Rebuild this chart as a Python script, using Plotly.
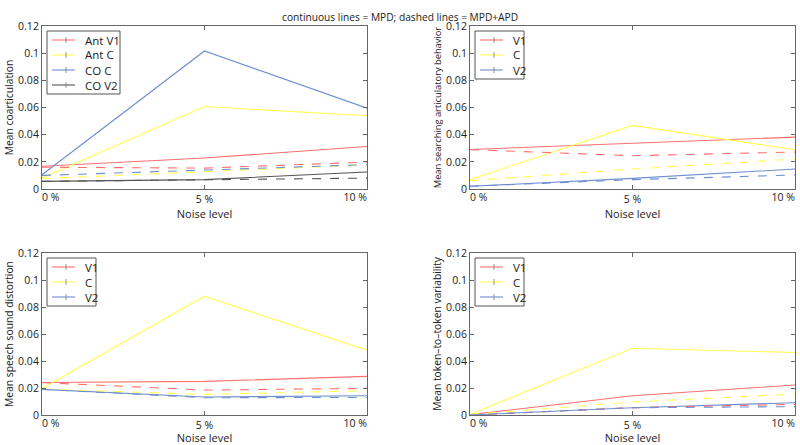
import plotly.graph_objects as go

noise = [0, 5, 10]
noise_labels = ["0 %", "5 %", "10 %"]

# Panel 1: Mean coarticulation
coart_names = ["Ant V1", "Ant C", "CO C", "CO V2"]
coart_mpd = [
    [0.0167, 0.0228, 0.0313],
    [0.0080, 0.0607, 0.0539],
    [0.0105, 0.1016, 0.0595],
    [0.0056, 0.0069, 0.0125],
]
coart_apd = [
    [0.0160, 0.0154, 0.0198],
    [0.0076, 0.0130, 0.0179],
    [0.0100, 0.0142, 0.0179],
    [0.0056, 0.0069, 0.0080],
]

seg_names = ["V1", "C", "V2"]
# Panel 2: Mean searching articulatory behavior
search_mpd = [
    [0.0291, 0.0338, 0.0382],
    [0.0069, 0.0468, 0.0289],
    [0.0020, 0.0078, 0.0147],
]
search_apd = [
    [0.0290, 0.0245, 0.0272],
    [0.0061, 0.0147, 0.0220],
    [0.0020, 0.0069, 0.0103],
]
# Panel 3: Mean speech sound distortion
dist_mpd = [
    [0.0241, 0.0249, 0.0286],
    [0.0197, 0.0880, 0.0480],
    [0.0190, 0.0133, 0.0143],
]
dist_apd = [
    [0.0240, 0.0185, 0.0197],
    [0.0192, 0.0153, 0.0180],
    [0.0190, 0.0128, 0.0130],
]
# Panel 4: Mean token-to-token variability
var_mpd = [
    [0.0003, 0.0143, 0.0222],
    [0.0005, 0.0495, 0.0463],
    [0.0000, 0.0054, 0.0091],
]
var_apd = [
    [0.0000, 0.0054, 0.0079],
    [0.0005, 0.0096, 0.0155],
    [0.0000, 0.0054, 0.0062],
]

y_ticks = [0, 0.02, 0.04, 0.06, 0.08, 0.1, 0.12]
y_ticktext = ["0", "0.02", "0.04", "0.06", "0.08", "0.1", "0.12"]

colors4 = ["#ff7070", "#ffff55", "#6f8fd0", "#555555"]
colors3 = ["#ff7070", "#ffff55", "#6f8fd0"]

W, H = 800, 445
ML, MR, MT, MB = 42, 5, 26, 30
PW, PH = W - ML - MR, H - MT - MB
def fx(px):
    return (px - ML) / PW
def fy(py):
    return (H - MB - py) / PH

panels = [
    dict(names=coart_names, mpd=coart_mpd, apd=coart_apd, colors=colors4,
         ytitle="Mean coarticulation", ysize=10.3, x0=42, x1=367, y0=26, y1=189, legw=73),
    dict(names=seg_names, mpd=search_mpd, apd=search_apd, colors=colors3,
         ytitle="Mean searching articulatory behavior", ysize=9.3, x0=470, x1=795, y0=26, y1=189, legw=49),
    dict(names=seg_names, mpd=dist_mpd, apd=dist_apd, colors=colors3,
         ytitle="Mean speech sound distortion", ysize=10.3, x0=42, x1=367, y0=253, y1=415, legw=49),
    dict(names=seg_names, mpd=var_mpd, apd=var_apd, colors=colors3,
         ytitle="Mean token\u2013to\u2013token variability", ysize=10.3, x0=470, x1=795, y0=253, y1=415, legw=49),
]

FONT = "Open Sans, Lato, sans-serif"
TICKFONT = dict(size=10.5, color="#222222")
fig = go.Figure()
layout = dict(
    width=W, height=H,
    margin=dict(l=ML, r=MR, t=MT, b=MB, pad=0),
    paper_bgcolor="white", plot_bgcolor="white",
    font=dict(family=FONT, size=10, color="#222222"),
    showlegend=False,
)
shapes = []
annotations = []

for i, p in enumerate(panels):
    n = i + 1
    xa = "x" if n == 1 else f"x{n}"
    ya = "y" if n == 1 else f"y{n}"
    for name, ys, c in zip(p["names"], p["mpd"], p["colors"]):
        fig.add_trace(go.Scatter(x=noise, y=ys, mode="lines", name=name + " (MPD)",
                                 line=dict(color=c, width=1.1),
                                 xaxis=xa, yaxis=ya))
    for name, ys, c in zip(p["names"], p["apd"], p["colors"]):
        fig.add_trace(go.Scatter(x=noise, y=ys, mode="lines", name=name + " (MPD+APD)",
                                 line=dict(color=c, width=1.1, dash="dash"),
                                 xaxis=xa, yaxis=ya))
    axcommon = dict(showline=True, linecolor="#666666", linewidth=1, mirror="ticks",
                    ticks="inside", ticklen=4, tickcolor="#666666", showgrid=False,
                    zeroline=False, automargin=False, tickfont=TICKFONT)
    xdom = [fx(p["x0"]), fx(p["x1"])]
    # main x axis: box, inside ticks, centre label
    layout["xaxis" if n == 1 else f"xaxis{n}"] = dict(
        domain=xdom, range=[0, 10], tickvals=noise,
        ticktext=["", noise_labels[1], ""], anchor=ya,
        title=dict(text="Noise level", standoff=1, font=dict(size=11)), **axcommon)
    # overlay axes so the end labels sit inside the axis extent (MATLAB style)
    for j, (pos, tpos) in enumerate([(0, "outside right"), (2, "outside left")]):
        k = 4 + 2 * i + j + 1
        layout[f"xaxis{k}"] = dict(
            domain=xdom, range=[0, 10], overlaying=xa, anchor=ya, side="bottom",
            tickvals=[noise[pos]], ticktext=[noise_labels[pos]],
            ticklabelposition=tpos, ticks="", showline=False, showgrid=False,
            zeroline=False, automargin=False, tickfont=TICKFONT)
        # empty helper trace so the overlay axis is rendered
        fig.add_trace(go.Scatter(x=[], y=[], mode="lines", xaxis=f"x{k}", yaxis=ya,
                                 hoverinfo="skip", showlegend=False))
    layout["yaxis" if n == 1 else f"yaxis{n}"] = dict(
        domain=[fy(p["y1"]), fy(p["y0"])], range=[0, 0.12], tickvals=y_ticks,
        ticktext=y_ticktext, anchor=xa,
        title=dict(text=p["ytitle"], standoff=2, font=dict(size=p["ysize"])), **axcommon)

    # legend box (MATLAB style: solid + marker + dashed sample)
    bx0, by0 = p["x0"] + 5, p["y0"] + 5
    nitem = len(p["names"])
    bx1, by1 = bx0 + p["legw"], by0 + 15 * nitem + 3
    shapes.append(dict(type="rect", xref="paper", yref="paper",
                       x0=fx(bx0), x1=fx(bx1), y0=fy(by1), y1=fy(by0),
                       line=dict(color="#555555", width=1), fillcolor="white", layer="above"))
    for k, (name, c) in enumerate(zip(p["names"], p["colors"])):
        cy = by0 + 9 + 15 * k
        sx0, sm, sx1 = bx0 + 5, bx0 + 19, bx0 + 33
        shapes.append(dict(type="line", xref="paper", yref="paper",
                           x0=fx(sx0), x1=fx(sm), y0=fy(cy), y1=fy(cy),
                           line=dict(color=c, width=1.1), layer="above"))
        shapes.append(dict(type="line", xref="paper", yref="paper",
                           x0=fx(sm), x1=fx(sx1), y0=fy(cy), y1=fy(cy),
                           line=dict(color=c, width=1.1, dash="dash"), layer="above"))
        shapes.append(dict(type="line", xref="paper", yref="paper",
                           x0=fx(sm), x1=fx(sm), y0=fy(cy - 3), y1=fy(cy + 3),
                           line=dict(color="#777777", width=0.8), layer="above"))
        annotations.append(dict(text=name, x=fx(sx1 + 3), y=fy(cy), xref="paper", yref="paper",
                                xanchor="left", yanchor="middle", showarrow=False,
                                font=dict(size=11.5, color="#222222")))

annotations.append(dict(text="continuous lines = MPD; dashed lines = MPD+APD",
                        x=fx(400), y=fy(8), xref="paper", yref="paper",
                        showarrow=False, font=dict(size=10.2, color="#222222")))
layout["shapes"] = shapes
layout["annotations"] = annotations
fig.update_layout(**layout)
fig.write_html("out.html", config={"displayModeBar": False},
               post_script="document.body.style.margin='0';document.body.style.overflow='hidden';")
